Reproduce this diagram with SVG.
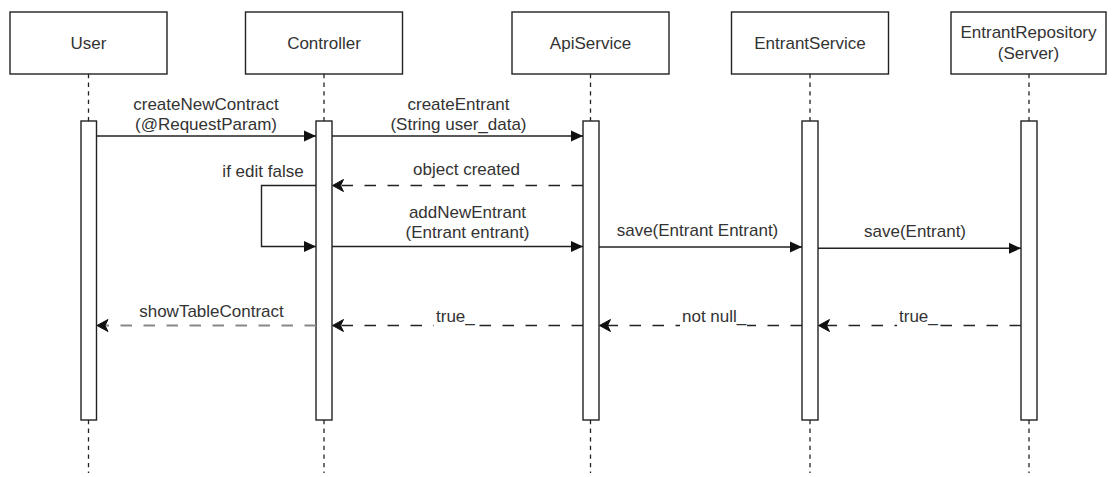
<svg xmlns="http://www.w3.org/2000/svg" width="1112" height="477" viewBox="0 0 1112 477">
<defs>
<style>
.box{fill:#fff;stroke:#222;stroke-width:1.4}
.act{fill:#fff;stroke:#222;stroke-width:1.4}
.life{stroke:#222;stroke-width:1.3;stroke-dasharray:4.3 4.3;fill:none}
.msg{stroke:#222;stroke-width:1.4;fill:none}
.ret{stroke:#222;stroke-width:1.4;fill:none;stroke-dasharray:11.5 11.5}
.retg{stroke:#888;stroke-width:2.2;fill:none;stroke-dasharray:11.5 11.5}
text{font-family:"Liberation Sans",Arial,sans-serif;font-size:17px;fill:#333;text-anchor:middle}
.bg{fill:#fff}
</style>
<marker id="blk" viewBox="0 0 12 12" refX="12" refY="6" markerWidth="12" markerHeight="12" markerUnits="userSpaceOnUse" orient="auto">
<path d="M0,0.5 L12,6 L0,11.5 Z" fill="#111"/>
</marker>
<marker id="opn" viewBox="0 0 12 14" refX="11.5" refY="7" markerWidth="12" markerHeight="14" markerUnits="userSpaceOnUse" orient="auto">
<path d="M11.5,7 L0.5,1 L3.5,7 L0.5,13 Z" fill="#111" stroke="#111" stroke-width="1" stroke-linejoin="round"/>
</marker>
</defs>

<g id="lifelines">
<line class="life" x1="88.5" y1="74" x2="88.5" y2="121"/>
<line class="life" x1="88.5" y1="420" x2="88.5" y2="473"/>
<line class="life" x1="324" y1="74" x2="324" y2="121"/>
<line class="life" x1="324" y1="420" x2="324" y2="473"/>
<line class="life" x1="590.5" y1="74" x2="590.5" y2="121"/>
<line class="life" x1="590.5" y1="420" x2="590.5" y2="473"/>
<line class="life" x1="810" y1="74" x2="810" y2="121"/>
<line class="life" x1="810" y1="420" x2="810" y2="473"/>
<line class="life" x1="1029" y1="74" x2="1029" y2="121"/>
<line class="life" x1="1029" y1="420" x2="1029" y2="473"/>
</g>

<g id="node-user">
<rect class="box" x="10" y="12" width="157" height="62"/>
<text x="88.5" y="48.5">User</text>
<rect class="act" x="81" y="121" width="15.5" height="299"/>
</g>
<g id="node-controller">
<rect class="box" x="245.5" y="12" width="157" height="62"/>
<text x="324" y="48.5">Controller</text>
<rect class="act" x="316" y="121" width="16" height="299"/>
</g>
<g id="node-apiservice">
<rect class="box" x="512" y="12" width="157" height="62"/>
<text x="590.5" y="48.5">ApiService</text>
<rect class="act" x="583" y="121" width="16" height="299"/>
</g>
<g id="node-entrantservice">
<rect class="box" x="731.5" y="12" width="157" height="62"/>
<text x="810" y="48.5">EntrantService</text>
<rect class="act" x="802" y="121" width="16" height="299"/>
</g>
<g id="node-entrantrepository">
<rect class="box" x="951" y="12" width="155" height="62"/>
<text x="1028.5" y="38.3">EntrantRepository</text>
<text x="1028.5" y="58.7">(Server)</text>
<rect class="act" x="1021" y="121" width="16" height="299"/>
</g>

<g id="connectors">
<line class="msg" x1="96.5" y1="136" x2="316" y2="136" marker-end="url(#blk)"/>
<text x="206" y="109.5">createNewContract</text>
<text x="206" y="129.5">(@RequestParam)</text>

<line class="msg" x1="332" y1="136" x2="583" y2="136" marker-end="url(#blk)"/>
<text x="458.5" y="109.5">createEntrant</text>
<text x="458.5" y="129.5">(String user_data)</text>

<line class="ret" x1="583" y1="185.5" x2="332.5" y2="185.5" marker-end="url(#opn)"/>
<text x="466.5" y="175">object created</text>

<polyline class="msg" points="316,185.5 261.5,185.5 261.5,246.5 316,246.5" marker-end="url(#blk)"/>
<text x="263" y="176.5">if edit false</text>

<line class="msg" x1="332" y1="246.5" x2="583" y2="246.5" marker-end="url(#blk)"/>
<text x="467.5" y="217.5">addNewEntrant</text>
<text x="467.5" y="237.5">(Entrant entrant)</text>

<line class="msg" x1="599" y1="247" x2="802" y2="247" marker-end="url(#blk)"/>
<text x="697.5" y="236">save(Entrant Entrant)</text>

<line class="msg" x1="818" y1="248.3" x2="1021" y2="248.3" marker-end="url(#blk)"/>
<text x="915" y="236.5">save(Entrant)</text>

<line class="retg" x1="316" y1="325.5" x2="104" y2="325.5"/>
<path d="M97,325.5 L108,319.5 L105,325.5 L108,331.5 Z" fill="#111" stroke="#111" stroke-width="1" stroke-linejoin="round"/>
<text x="211.5" y="316.5">showTableContract</text>

<line class="ret" x1="583" y1="325.5" x2="332.5" y2="325.5" marker-end="url(#opn)"/>
<rect class="bg" x="434" y="309" width="42" height="18"/>
<text x="436" y="322" style="text-anchor:start">true_</text>

<line class="ret" x1="802" y1="325.5" x2="599.5" y2="325.5" marker-end="url(#opn)"/>
<rect class="bg" x="680" y="309" width="67" height="18"/>
<text x="682" y="322" style="text-anchor:start">not null_</text>

<line class="ret" x1="1021" y1="325.5" x2="818.5" y2="325.5" marker-end="url(#opn)"/>
<rect class="bg" x="897" y="309" width="42" height="18"/>
<text x="899" y="322" style="text-anchor:start">true_</text>
</g>
</svg>
